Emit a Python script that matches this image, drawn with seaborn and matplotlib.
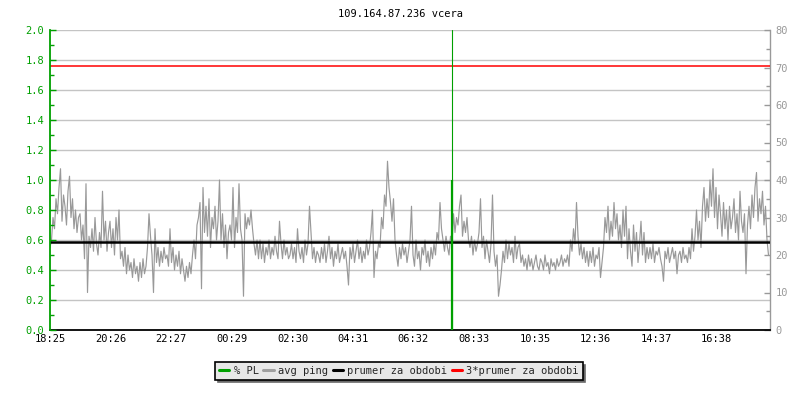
import numpy as np
import pandas as pd
import matplotlib
matplotlib.use("Agg")
import matplotlib.pyplot as plt
from matplotlib.ticker import MultipleLocator, FixedLocator, FormatStrFormatter
import seaborn as sns

# ---------------- data ----------------
title = "109.164.87.236 vcera"
start_label = "18:25"
xtick_labels = ["18:25", "20:26", "22:27", "00:29", "02:30", "04:31",
                "06:32", "08:33", "10:35", "12:36", "14:37", "16:38"]

sample_step_min = 3  # one ping sample every 3 minutes over 24 h
avg_ping_ms = [
    22, 24, 30, 27, 35, 31, 38, 43, 29, 36, 33, 28, 37, 41, 30, 35, 27, 32, 26, 30,
    31, 24, 28, 19, 39, 10, 25, 22, 27, 21, 30, 23, 20, 26, 22, 37, 24, 29, 21, 26,
    29, 22, 27, 20, 30, 24, 32, 19, 21, 17, 22, 15, 20, 16, 18, 14, 19, 15, 17, 13,
    18, 14, 19, 15, 17, 22, 31, 25, 20, 10, 27, 18, 22, 17, 21, 18, 22, 19, 20, 17,
    27, 18, 22, 16, 20, 17, 21, 15, 19, 16, 13, 17, 14, 18, 15, 20, 24, 19, 28, 30,
    34, 11, 38, 26, 33, 25, 35, 22, 30, 27, 33, 24, 29, 40, 24, 31, 22, 28, 19, 26,
    28, 24, 38, 22, 30, 26, 39, 27, 24, 9, 31, 27, 30, 28, 32, 27, 23, 20, 24, 19,
    24, 19, 23, 18, 22, 20, 24, 19, 22, 20, 25, 21, 19, 29, 23, 19, 24, 20, 22, 19,
    20, 23, 19, 22, 18, 27, 21, 19, 22, 18, 24, 20, 23, 33, 26, 19, 22, 18, 21, 20,
    18, 22, 19, 23, 18, 21, 25, 19, 22, 17, 21, 19, 23, 18, 20, 22, 19, 21, 17, 12,
    22, 19, 23, 18, 21, 24, 19, 22, 18, 21, 19, 24, 20, 22, 26, 32, 14, 21, 19, 23,
    22, 30, 27, 36, 33, 45, 38, 34, 29, 35, 24, 20, 17, 22, 19, 23, 20, 22, 18, 21,
    24, 33, 20, 17, 24, 19, 21, 16, 22, 20, 24, 18, 21, 17, 22, 19, 23, 20, 26, 24,
    34, 27, 24, 21, 25, 22, 20, 25, 23, 31, 26, 30, 28, 33, 36, 25, 29, 26, 30, 24,
    22, 25, 20, 24, 21, 23, 26, 35, 22, 25, 19, 24, 21, 18, 23, 36, 21, 17, 20, 9,
    12, 16, 21, 18, 24, 19, 23, 20, 22, 18, 25, 19, 22, 23, 18, 20, 17, 19, 16, 20,
    17, 19, 16, 18, 20, 17, 16, 19, 18, 16, 20, 17, 18, 15, 19, 17, 18, 16, 19, 17,
    18, 20, 17, 19, 18, 20, 17, 24, 21, 27, 23, 34, 25, 20, 23, 19, 22, 18, 21, 17,
    21, 18, 22, 17, 20, 19, 22, 14, 18, 22, 30, 26, 33, 24, 29, 25, 34, 27, 31, 24,
    28, 22, 32, 25, 33, 19, 27, 21, 17, 28, 21, 26, 18, 23, 29, 20, 26, 18, 22, 19,
    22, 19, 23, 18, 21, 20, 22, 19, 17, 13, 21, 19, 22, 18, 20, 22, 19, 21, 15, 20,
    21, 18, 22, 19, 20, 18, 22, 19, 27, 21, 25, 32, 24, 29, 22, 33, 38, 29, 35, 30,
    40, 33, 43, 30, 38, 27, 36, 31, 25, 34, 27, 32, 24, 33, 27, 30, 35, 26, 31, 24,
    37, 29, 26, 31, 15, 28, 33, 27, 36, 30, 38, 42, 29, 35, 31, 37, 28, 33, 24, 20,
]
period_mean_ms = 23.43
triple_mean_ms = 70.3

pl_event_label = "07:49"
pl_percent = [1.0]

series_labels = ["% PL", "avg ping", "prumer za obdobi", "3*prumer za obdobi"]

PL_MAX = 2.0
MS_MAX = 80.0

# ---------------- helpers ----------------
def minutes_since_start(lbl):
    h, m = map(int, lbl.split(":"))
    h0, m0 = map(int, start_label.split(":"))
    return ((h * 60 + m) - (h0 * 60 + m0)) % 1440

df = pd.DataFrame({
    "t": np.arange(len(avg_ping_ms)) * sample_step_min,
    "ping": avg_ping_ms,
})
xtick_pos = [minutes_since_start(l) for l in xtick_labels]
pl_time = [minutes_since_start(pl_event_label)]

# ---------------- style ----------------
sns.set_style("white")
plt.rcParams["font.family"] = ["DejaVu Sans Mono"]
GREEN = "#00a000"
GREY = "#999999"
GRID = "#c4c4c4"
FS = 7.5

fig = plt.figure(figsize=(8, 4), dpi=100)
ax = fig.add_axes([50 / 800, 70 / 400, 720 / 800, 300 / 400])  # ms axis (right)
ax2 = ax.twinx()                                               # PL axis (left)

ax.yaxis.tick_right()
ax.yaxis.set_label_position("right")
ax2.yaxis.tick_left()
ax2.yaxis.set_label_position("left")

ax.set_xlim(0, 1440)
ax.set_ylim(0, MS_MAX)
ax2.set_ylim(0, PL_MAX)

ax.yaxis.set_major_locator(MultipleLocator(10))
ax.yaxis.set_minor_locator(MultipleLocator(5))
ax2.yaxis.set_major_locator(MultipleLocator(0.2))
ax2.yaxis.set_minor_locator(MultipleLocator(0.1))
ax2.yaxis.set_major_formatter(FormatStrFormatter("%.1f"))
ax.grid(False)
ax2.grid(False)

# horizontal grid follows the left (PL) ticks, drawn behind the data
for v in np.arange(0.2, PL_MAX + 0.01, 0.2):
    ax.axhline(v * MS_MAX / PL_MAX, color=GRID, lw=1, zorder=0)

sns.lineplot(data=df, x="t", y="ping", ax=ax, color=GREY, lw=0.85,
             zorder=2, legend=False)
ax.axhline(period_mean_ms, color="black", lw=1.8, zorder=3)
ax.axhline(triple_mean_ms, color="red", lw=1.1, zorder=3)

# packet loss on left axis
ax2.vlines(pl_time, 0, pl_percent, color=GREEN, lw=1.6, zorder=4)
ax2.axvline(pl_time[0], color=GREEN, lw=0.8, zorder=4)

# x ticks
ax.xaxis.set_major_locator(FixedLocator(xtick_pos))
ax.set_xticklabels(xtick_labels)
ax.set_xlabel("")
ax.set_ylabel("")
ax2.set_ylabel("")

# spines
for a in (ax, ax2):
    a.spines["top"].set_visible(False)
ax.spines["left"].set_visible(False)
ax2.spines["right"].set_visible(False)
ax2.spines["bottom"].set_visible(False)
ax2.spines["left"].set_color(GREEN)
ax2.spines["left"].set_linewidth(1.3)
ax.spines["right"].set_color(GREY)
ax.spines["right"].set_linewidth(1.0)
ax.spines["bottom"].set_color("black")
ax.spines["bottom"].set_linewidth(1.3)

ax.tick_params(axis="x", direction="in", length=4, width=1, colors="black",
               labelsize=FS, pad=3)
ax.tick_params(axis="y", which="major", direction="in", length=4, width=1,
               colors=GREY, labelsize=FS, pad=4, right=True, left=False)
ax.tick_params(axis="y", which="minor", direction="in", length=3, width=1,
               colors=GREY, right=True, left=False)
ax2.tick_params(axis="y", which="major", direction="in", length=4, width=1,
                colors=GREEN, labelsize=FS, pad=4, left=True, right=False)
ax2.tick_params(axis="y", which="minor", direction="in", length=3, width=1,
                colors=GREEN, left=True, right=False)

fig.text(0.5, 1 - 14 / 400, title, ha="center", va="center", fontsize=FS,
         color="black")

# legend
handles = [
    plt.Line2D([], [], color=GREEN, lw=2.2),
    plt.Line2D([], [], color="#a0a0a0", lw=2.2),
    plt.Line2D([], [], color="black", lw=2.2),
    plt.Line2D([], [], color="red", lw=2.2),
]
leg = fig.legend(handles, series_labels, loc="center",
                 bbox_to_anchor=(399 / 800, 1 - 371 / 400), ncol=4,
                 fontsize=FS, frameon=True, fancybox=False,
                 shadow={"color": "#6a6a6a", "alpha": 1},
                 handlelength=1.0, handletextpad=0.4, columnspacing=0.45,
                 borderpad=0.35, borderaxespad=0)
leg.get_frame().set_facecolor("#e8e8e8")
leg.get_frame().set_edgecolor("black")
leg.get_frame().set_linewidth(1.2)
leg.get_frame().set_alpha(1)

fig.savefig("out.png", dpi=100)
